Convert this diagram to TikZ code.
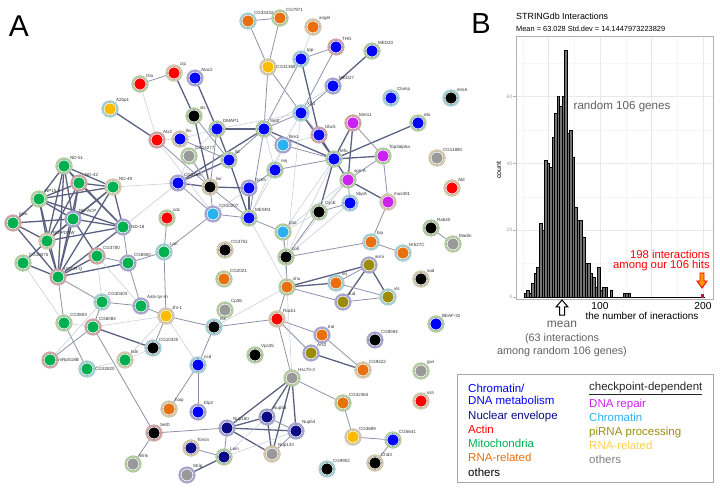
\documentclass[tikz,border=0pt]{standalone}
\usepackage{fontspec}
\setmainfont{Liberation Sans}
\usetikzlibrary{backgrounds}
\definecolor{cdna}{HTML}{0000FF}
\definecolor{cnuc}{HTML}{0A0A86}
\definecolor{cact}{HTML}{FF0000}
\definecolor{cmito}{HTML}{00B050}
\definecolor{crna}{HTML}{E8700E}
\definecolor{crep}{HTML}{CC22EE}
\definecolor{cchr}{HTML}{2AB2F0}
\definecolor{cpi}{HTML}{9C8C0C}
\definecolor{cgold}{HTML}{FFBB00}
\definecolor{cgray}{HTML}{999999}
\definecolor{rg}{HTML}{B2D29C}
\definecolor{rb}{HTML}{D8CBA6}
\definecolor{rc}{HTML}{9ED5DA}
\definecolor{rr}{HTML}{D9A0A0}
\definecolor{rp}{HTML}{A4A4D8}
\definecolor{linkdark}{HTML}{5B6180}
\definecolor{linkmid}{HTML}{8D92AA}
\definecolor{linklight}{HTML}{C9CCD8}
\tikzset{
  >=latex,
  gene/.style 2 args={circle, minimum size=15pt, inner sep=0pt, fill=#1,
    draw=gray!60, line width=0.3pt, double=#2, double distance=1.5pt,
    path picture={\draw[white, line width=0.8pt] (path picture bounding box.center) circle (6pt);}},
  lbl/.style={font=\fontsize{4.5}{5}\selectfont, text=black!80, inner sep=0.5pt},
  strong link/.style={draw=linkdark, line width=1.3pt},
  mid link/.style={draw=linkmid, line width=0.8pt},
  weak link/.style={draw=linklight, line width=0.55pt},
  bar/.style={fill=black!55, draw=black, line width=0.35pt},
  legtext/.style={anchor=base west, font=\fontsize{11.5}{12}\selectfont, inner sep=0pt}
}
\begin{document}
\begin{tikzpicture}[x=1pt,y=-1pt]
\useasboundingbox (0,0) rectangle (720,494);

% panel A: network
\node[font=\fontsize{30}{30}\selectfont] (lettA) at (19,26) {A};

\node[gene={cact}{rg}, label={[lbl]45:Gla}] (gla) at (140,84) {};
\node[gene={cact}{rb}, label={[lbl]45:ctp}] (ctp) at (174,73) {};
\node[gene={cdna}{rp}, label={[lbl]45:Atac2}] (atac) at (195,78) {};
\node[gene={cgold}{rc}, label={[lbl]45:A2bp1}] (abp) at (110,109) {};
\node[gene={cact}{rr}, label={[lbl]45:Atx2}] (atx) at (157,140) {};
\node[gene={black}{rg}, label={[lbl]45:sls}] (sls) at (194,116) {};
\node[gene={cdna}{rb}, label={[lbl]45:lkv}] (lkv) at (180,139) {};
\node[gene={cdna}{rg}, label={[lbl]45:DMAP1}] (dmap) at (217,129) {};
\node[gene={cgray}{rg}, label={[lbl]45:CG14277}] (cg14277) at (189,156) {};
\node[gene={crna}{rc}, label={[lbl]45:CG33432}] (cg33432) at (248,21) {};
\node[gene={crna}{rg}, label={[lbl]45:CG7971}] (cg7971) at (280,18) {};
\node[gene={crna}{rb}, label={[lbl]45:angel}] (angel) at (313,27) {};
\node[gene={cdna}{rr}, label={[lbl]45:THG}] (thg) at (336,47) {};
\node[gene={cdna}{rg}, label={[lbl]45:MED20}] (med20) at (372,51) {};
\node[gene={cgold}{rb}, label={[lbl]0:CG31368}] (cg31368) at (268,67) {};
\node[gene={cdna}{rc}, label={[lbl]45:Ipp}] (ipp) at (301,59) {};
\node[gene={cdna}{rp}, label={[lbl]45:MED27}] (med27) at (333,86) {};
\node[gene={cdna}{rc}, label={[lbl]45:Clamp}] (clamp) at (391,98) {};
\node[gene={black}{rc}, label={[lbl]45:elmA}] (elma) at (451,98) {};
\node[gene={cdna}{rc}, label={[lbl]45:Xpd}] (xpd) at (301,113) {};
\node[gene={crep}{rr}, label={[lbl]45:Mre11}] (mre) at (353,123) {};
\node[gene={cdna}{rr}, label={[lbl]45:Ubc5}] (ubc) at (319,135) {};
\node[gene={cdna}{rg}, label={[lbl]45:ebi}] (ebi) at (418,123) {};
\node[gene={crep}{rg}, label={[lbl]45:Top3alpha}] (top3) at (383,156) {};
\node[gene={cgray}{rb}, label={[lbl]45:CG11880}] (cg11880) at (437,158) {};
\node[gene={cdna}{rg}, label={[lbl]45:tefu}] (tefu) at (334,159) {};
\node[gene={cdna}{rg}, label={[lbl]45:Set2}] (set2) at (264,129) {};
\node[gene={cchr}{rp}, label={[lbl]45:Bre1}] (bre) at (283,145) {};
\node[gene={cdna}{rg}, label={[lbl]45:lid}] (lid) at (229,160) {};
\node[gene={cdna}{rg}, label={[lbl]45:nej}] (nej) at (275,170) {};
\node[gene={cdna}{rp}, label={[lbl]45:CG3165}] (cg3165) at (178,183) {};
\node[gene={black}{rb}, label={[lbl]45:lwr}] (lwr) at (210,187) {};
\node[gene={cdna}{rp}, label={[lbl]45:Gcn5}] (gcn) at (249,188) {};
\node[gene={cchr}{rp}, label={[lbl]45:CG10207}] (cg10207) at (213,214) {};
\node[gene={cdna}{rg}, label={[lbl]45:MESR4}] (mesr4) at (249,218) {};
\node[gene={crep}{rg}, label={[lbl]45:spn-A}] (spna) at (348,180) {};
\node[gene={crep}{rb}, label={[lbl]45:mus301}] (mus301) at (388,202) {};
\node[gene={cdna}{rc}, label={[lbl]45:SkpA}] (skpa) at (350,203) {};
\node[gene={black}{rg}, label={[lbl]45:CycE}] (cyce) at (319,212) {};
\node[gene={cact}{rb}, label={[lbl]45:Abl}] (abl) at (452,188) {};
\node[gene={cchr}{rg}, label={[lbl]45:pho}] (pho) at (283,232) {};
\node[gene={black}{rg}, label={[lbl]45:Rab40}] (rab40) at (431,228) {};
\node[gene={cgray}{rg}, label={[lbl]45:Madm}] (madm) at (453,244) {};
\node[gene={crna}{rc}, label={[lbl]45:bip}] (bip) at (371,242) {};
\node[gene={crna}{rc}, label={[lbl]45:Hrb27C}] (hrb) at (403,253) {};
\node[gene={black}{rg}, label={[lbl]45:coil}] (coil) at (286,257) {};
\node[gene={black}{rb}, label={[lbl]45:CG3751}] (cg3751) at (225,250) {};
\node[gene={cpi}{rp}, label={[lbl]45:armi}] (armi) at (369,265) {};
\node[gene={black}{rb}, label={[lbl]45:sad}] (sad) at (421,279) {};
\node[gene={crna}{rg}, label={[lbl]45:shu}] (shu) at (287,287) {};
\node[gene={crna}{rc}, label={[lbl]45:tej}] (tej) at (336,283) {};
\node[gene={cpi}{rp}, label={[lbl]45:tud}] (tud) at (343,302) {};
\node[gene={cpi}{rc}, label={[lbl]45:vls}] (vls) at (388,297) {};
\node[gene={crna}{rg}, label={[lbl]45:CG2021}] (cg2021) at (224,279) {};
\node[gene={cgray}{rg}, label={[lbl]45:Cp36}] (cp36) at (225,310) {};
\node[gene={cact}{rb}, label={[lbl]45:Rack1}] (rack) at (277,319) {};
\node[gene={cdna}{rg}, label={[lbl]45:BEAF-32}] (beaf) at (436,324) {};
\node[gene={cmito}{rg}, label={[lbl]45:ND-51}] (nd51) at (64,166) {};
\node[gene={cmito}{rr}, label={[lbl]45:ND-42}] (nd42) at (79,183) {};
\node[gene={cmito}{rb}, label={[lbl]45:ND-49}] (nd49) at (113,187) {};
\node[gene={cmito}{rg}, label={[lbl]45:NP15.6}] (np15) at (39,199) {};
\node[gene={cmito}{rp}, label={[lbl]45:ND-ACP}] (ndacp) at (73,219) {};
\node[gene={cmito}{rp}, label={[lbl]0:ND-18}] (nd18) at (123,227) {};
\node[gene={cmito}{rr}, label={[lbl]45:ppw}] (ppw) at (13,223) {};
\node[gene={cmito}{rb}, label={[lbl]45:ND-PDSW}] (ndpdsw) at (47,241) {};
\node[gene={cmito}{rr}, label={[lbl]45:CG3780}] (cg3780) at (97,256) {};
\node[gene={cmito}{rg}, label={[lbl]45:CG10075}] (cg10075) at (23,263) {};
\node[gene={cmito}{rp}, label={[lbl]45:CG6900}] (cg6900) at (128,263) {};
\node[gene={cmito}{rr}, label={[lbl]45:UQCR-Q}] (uqcrq) at (58,277) {};
\node[gene={cmito}{rc}, label={[lbl]45:CG30403}] (cg30403) at (102,302) {};
\node[gene={cmito}{rp}, label={[lbl]45:Aats-tyr-m}] (aats) at (141,306) {};
\node[gene={cgold}{rb}, label={[lbl]45:JhI-1}] (jhi) at (166,316) {};
\node[gene={cmito}{rg}, label={[lbl]45:CG3803}] (cg3803) at (64,323) {};
\node[gene={cmito}{rr}, label={[lbl]45:CG6084}] (cg6084) at (93,327) {};
\node[gene={cact}{rg}, label={[lbl]45:cdc}] (cdc) at (167,218) {};
\node[gene={cmito}{rc}, label={[lbl]45:Lon}] (lon) at (164,252) {};
\node[gene={black}{rc}, label={[lbl]45:tsk}] (tsk) at (214,327) {};
\node[gene={cmito}{rr}, label={[lbl]0:mRpS18B}] (mrps) at (50,360) {};
\node[gene={cmito}{rc}, label={[lbl]0:CG32820}] (cg32820) at (87,369) {};
\node[gene={cmito}{rb}, label={[lbl]45:kdn}] (kdn) at (125,360) {};
\node[gene={black}{rc}, label={[lbl]45:CG10320}] (cg10320) at (153,348) {};
\node[gene={cdna}{rc}, label={[lbl]45:ncd}] (ncd) at (198,365) {};
\node[gene={crna}{rb}, label={[lbl]45:hoip}] (hoip) at (169,409) {};
\node[gene={cdna}{rp}, label={[lbl]45:Elp2}] (elp2) at (198,412) {};
\node[gene={black}{rr}, label={[lbl]45:SelD}] (seld) at (154,433) {};
\node[gene={cgray}{rg}, label={[lbl]45:Wnk}] (wnk) at (133,464) {};
\node[gene={cnuc}{rb}, label={[lbl]45:Torsin}] (torsin) at (191,448) {};
\node[gene={cnuc}{rp}, label={[lbl]45:Nup160}] (nup160) at (227,428) {};
\node[gene={cnuc}{rg}, label={[lbl]45:Lam}] (lam) at (224,457) {};
\node[gene={cgray}{rp}, label={[lbl]45:Strip}] (strip) at (187,475) {};
\node[gene={crna}{rp}, label={[lbl]45:tral}] (tral) at (322,335) {};
\node[gene={cpi}{rp}, label={[lbl]45:Ars2}] (ars2) at (311,353) {};
\node[gene={black}{rg}, label={[lbl]45:Vps35}] (vps35) at (255,355) {};
\node[gene={black}{rp}, label={[lbl]45:CG8594}] (cg8594) at (375,340) {};
\node[gene={crna}{rb}, label={[lbl]45:CG9422}] (cg9422) at (363,370) {};
\node[gene={cgray}{rg}, label={[lbl]45:gwl}] (gwl) at (421,371) {};
\node[gene={cgray}{rg}, label={[lbl]45:Hsc70-3}] (hsc) at (292,378) {};
\node[gene={crna}{rg}, label={[lbl]45:CG32364}] (cg32364) at (343,403) {};
\node[gene={cact}{rb}, label={[lbl]45:ssh}] (ssh) at (421,401) {};
\node[gene={cnuc}{rp}, label={[lbl]45:Nup58}] (nup58) at (267,417) {};
\node[gene={cnuc}{rp}, label={[lbl]45:Nup54}] (nup54) at (296,431) {};
\node[gene={cgold}{rb}, label={[lbl]45:CG3689}] (cg3689) at (353,437) {};
\node[gene={cdna}{rg}, label={[lbl]45:CG5641}] (cg5641) at (393,440) {};
\node[gene={cgray}{rb}, label={[lbl]45:Nup133}] (nup133) at (272,454) {};
\node[gene={black}{rb}, label={[lbl]45:Chd3}] (chd3) at (375,463) {};
\node[gene={black}{rc}, label={[lbl]45:CG9902}] (cg9902) at (327,469) {};

\begin{scope}[on background layer]
  \foreach \ga/\gb in {nd51/nd42, nd51/nd49, nd51/np15, nd51/ndacp, nd51/ndpdsw, nd51/uqcrq, nd51/nd18,
      nd42/nd49, nd42/np15, nd42/ndacp, nd42/ndpdsw, nd42/uqcrq, nd42/nd18,
      nd49/ndacp, nd49/nd18, nd49/ndpdsw, nd49/uqcrq, nd49/np15,
      np15/ndacp, np15/ppw, np15/ndpdsw, np15/uqcrq, np15/nd18,
      ndacp/nd18, ndacp/ndpdsw, ndacp/uqcrq, ndacp/ppw,
      ppw/ndpdsw, ppw/uqcrq, ndpdsw/uqcrq, ndpdsw/cg10075, ndpdsw/nd18,
      nd18/uqcrq, cg10075/uqcrq, uqcrq/cg6900, cg3780/uqcrq, cg3780/ndacp,
      ctp/sls, abp/atx, atac/dmap, dmap/lid, med20/med27, xpd/tefu, ubc/tefu, ipp/ubc,
      mre/tefu, ebi/tefu, tefu/top3, tefu/spna, mre/spna, spna/mus301, set2/dmap,
      set2/cg3165, set2/tefu, lid/cg3165, lid/mesr4, cg3165/lwr, lwr/gcn, gcn/mesr4,
      cyce/tefu, cg6084/cg10320, lam/strip, nup160/nup58, nup160/nup54, nup160/nup133,
      hsc/nup58, hsc/nup54, hsc/nup133, hsc/nup160, nup58/nup133,
      shu/armi, shu/tej, armi/tud, armi/vls, ars2/cg9422, sls/lwr}
    \draw[strong link] (\ga) -- (\gb);
  \foreach \ga/\gb in {ipp/set2, cg31368/xpd, cg31368/set2, cg33432/cg31368, cg7971/cg31368,
      cg33432/cg7971, thg/ipp, thg/xpd, med27/xpd, xpd/set2, set2/bre, bre/tefu, nej/tefu,
      set2/lid, gcn/nej, sls/lid, lkv/lid, dmap/lwr, atx/lwr, cg14277/lwr, mesr4/pho,
      pho/coil, coil/shu, shu/rack, rack/hsc, rack/ars2, rack/tral, tral/cg9422,
      hsc/cg32364, cg32364/cg3689, cg3689/cg5641, cg5641/chd3, lon/cg10207, lon/cg6900,
      lon/jhi, cdc/lon, aats/jhi, aats/cg30403, aats/cg6900, jhi/cg10320, jhi/tsk,
      tsk/rack, tsk/ncd, ncd/hoip, ncd/elp2, seld/wnk, seld/nup160, cg6084/mrps,
      cg3803/cg32820, cg6084/seld, lam/torsin, lam/nup160, nup54/nup58, nup54/nup133,
      tej/armi, tej/vls, tud/vls, tud/shu, bip/hrb, bip/mus301, bip/coil, rab40/madm,
      top3/mus301, top3/spna, mre/top3, cg30403/cg6084, cg30403/uqcrq, cyce/skpa,
      cyce/coil, skpa/spna, set2/mesr4, cg3165/cg10207, lwr/cg10207, lwr/mesr4, gla/ctp,
      cg3803/uqcrq, cg6900/nd18, cg6900/cg3780, ubc/xpd, cg10207/mesr4}
    \draw[mid link] (\ga) -- (\gb);
  \foreach \ga/\gb in {nd49/cg3165, nd18/cg3165, cg3780/aats, gla/atx, atx/cg10207,
      coil/tefu, coil/xpd, pho/tefu, pho/cyce, mesr4/shu, angel/ipp, xpd/bre,
      cg10207/gcn, lkv/dmap, cg14277/dmap, tsk/shu, hsc/shu, jhi/cg6084, jhi/ncd,
      lam/nup54, lam/nup58, skpa/coil, nej/mesr4, bre/mesr4, med27/set2,
      cg10075/cg3803, cg32820/kdn, kdn/jhi, kdn/cg10320, atx/lkv, cg14277/cg3165,
      dmap/xpd, bre/nej, ubc/bre, set2/nej, pho/spna, coil/spna, cg3780/cg30403,
      cg3803/cg6084, mrps/cg30403, cyce/spna, pho/shu, lkv/lwr}
    \draw[weak link] (\ga) -- (\gb);
\end{scope}

% panel B: histogram
\node[font=\fontsize{29}{29}\selectfont] (lettB) at (481,24) {B};
\node[anchor=west, font=\fontsize{8.9}{9}\selectfont, inner sep=0pt] (ttl) at (516,16) {STRINGdb Interactions};
\node[anchor=west, font=\fontsize{7.4}{8}\selectfont, inner sep=0pt] (subttl) at (516,29) {Mean = 63.028 Std.dev = 14.1447973223829};
\foreach \yy in {63.2,130,196.8,263.6}
  \draw[gray!8, line width=0.4pt] (516,\yy) -- (713,\yy);
\foreach \yy in {96.6,163.4,230.2}
  \draw[gray!18, line width=0.5pt] (516,\yy) -- (713,\yy);
\foreach \xx in {522.75,574.25,625.75,677.25}
  \draw[gray!8, line width=0.4pt] (\xx,36) -- (\xx,299);
\foreach \xx in {548.5,600,651.5,703}
  \draw[gray!18, line width=0.5pt] (\xx,36) -- (\xx,299);
\foreach \h [count=\i from 0] in {1,2,1,4,7,9,22,20,41,40,39,48,55,60,57,60,74,49,50,42,
    27,23,23,18,10,10,7,6,3,9,2,3,3,0,2,0,0,0,0,1,1,1}
  \draw[bar] ({524+2.53*\i},297) rectangle ++(2.53,{-3.34*\h});
\draw[black, line width=0.7pt] (524,297) -- (705,297);
\draw[fill=red, draw=black!70, line width=0.3pt] (701,297) rectangle (703.5,294);
\draw[gray!60, line width=0.6pt] (516,36) rectangle (713,299);
\foreach \v/\yy in {0/297,20/230.2,40/163.4,60/96.6} {
  \draw[gray!60, line width=0.5pt] (513,\yy) -- (516,\yy);
  \node[anchor=east, font=\fontsize{5}{5}\selectfont, text=gray!75, inner sep=0.5pt] at (513,\yy) {\v};
}
\node[rotate=90, font=\fontsize{7}{7}\selectfont] (ylab) at (499,170) {count};
\node[font=\fontsize{10.2}{10}\selectfont] (x100) at (600,306) {100};
\node[font=\fontsize{10.2}{10}\selectfont] (x200) at (703,306) {200};
\node[font=\fontsize{10}{10}\selectfont] (xlab) at (642,316) {the number of ineractions};
\node[font=\fontsize{11.6}{12}\selectfont, text=gray!75!black] (rnd) at (622,107) {random 106 genes};

\draw[fill=white, draw=black, line width=1pt]
  (562,300) -- (568,307) -- (564.5,307) -- (564.5,315) -- (559.5,315) -- (559.5,307) -- (556,307) -- cycle;
\node[font=\fontsize{12}{12}\selectfont, text=gray!75!black] (mean) at (562,324) {mean};
\node[font=\fontsize{10.8}{11}\selectfont, text=gray!75!black] (meanA) at (562,339) {(63 interactions};
\node[font=\fontsize{10.8}{11}\selectfont, text=gray!75!black] (meanB) at (562,352) {among random 106 genes)};

\node[anchor=east, font=\fontsize{11.3}{11}\selectfont, text=red, inner sep=0pt] (hitA) at (710,254) {198 interactions};
\node[anchor=east, font=\fontsize{11.3}{11}\selectfont, text=red, inner sep=0pt] (hitB) at (710,266) {among our 106 hits};
\draw[fill=orange!80!yellow, draw=red, line width=0.9pt]
  (702,288) -- (707,281) -- (704,281) -- (704,273) -- (700,273) -- (700,281) -- (697,281) -- cycle;

% legend
\draw[gray!70, line width=0.8pt] (457,374) rectangle (713,482);
\node[legtext, text=cdna] (lgA) at (468,392) {Chromatin/};
\node[legtext, text=cdna] (lgB) at (468,404) {DNA metabolism};
\node[legtext, text=cnuc] (lgC) at (468,419) {Nuclear envelope};
\node[legtext, text=cact] (lgD) at (468,433) {Actin};
\node[legtext, text=cmito] (lgE) at (468,447) {Mitochondria};
\node[legtext, text=crna] (lgF) at (468,461) {RNA-related};
\node[legtext, text=black] (lgG) at (468,476) {others};
\node[legtext, text=black!85] (lgH) at (589,390) {\underline{checkpoint-dependent}};
\node[legtext, text=crep] (lgI) at (589,407) {DNA repair};
\node[legtext, text=cchr] (lgJ) at (589,421) {Chromatin};
\node[legtext, text=cpi] (lgK) at (589,435) {piRNA processing};
\node[legtext, text=cgold!70!white] (lgL) at (589,449) {RNA-related};
\node[legtext, text=gray] (lgM) at (589,463) {others};
\end{tikzpicture}
\end{document}
